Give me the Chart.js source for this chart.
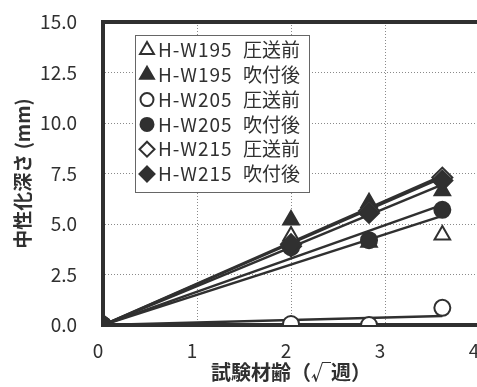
<!DOCTYPE html>
<html>
<head>
<meta charset="utf-8">
<script src="https://cdn.jsdelivr.net/npm/chart.js@4/dist/chart.umd.min.js"></script>
<style>
  html, body { margin: 0; padding: 0; background: #fff; }
  #wrap { width: 477px; height: 387px; overflow: hidden; position: relative; }
  canvas { display: block; }
</style>
</head>
<body>
<div id="wrap"><canvas id="chuseika" width="495" height="387"></canvas></div>
<script>
// 中性化深さ vs 試験材齢(√週)
var xValues = [0, 2, 2.83, 3.61];

var seriesLabels = ['H-W195 圧送前', 'H-W195 吹付後',
  'H-W205 圧送前', 'H-W205 吹付後',
  'H-W215 圧送前', 'H-W215 吹付後'];

var w195Before = [0, 4.4, 4.1, 4.45];
var w195After  = [0, 5.2, 6.05, 6.65];
var w205Before = [0, 0.05, 0, 0.85];
var w205After  = [0, 3.85, 4.2, 5.7];
var w215Before = [0, 4.0, 5.65, 7.3];
var w215After  = [0, 3.9, 5.55, 7.15];

// 近似直線 (原点から最終材齢まで), 図から読んだ終点の値
var trendX   = [0, 3.61];
var trendEnd = [5.4, 7.4, 0.45, 5.95, 7.3, 6.95];

var yTicks = [0, 2.5, 5, 7.5, 10, 12.5, 15];
var xTicks = [0, 1, 2, 3, 4];

var allSeries = [w195Before, w195After, w205Before, w205After, w215Before, w215After];
var shapes  = ['triangle', 'triangle', 'circle', 'circle', 'rectRot', 'rectRot'];
var filled  = [false, true, false, true, false, true];
var radius  = [9, 9, 8, 8, 10, 10];

var ink = '#303030';
var font = '"Noto Sans CJK JP", "Noto Sans", sans-serif';

function pts(ys) {
  return xValues.map(function (x, i) { return {x: x, y: ys[i]}; });
}

var datasets = [];
allSeries.forEach(function (ys, i) {
  datasets.push({
    type: 'scatter',
    label: seriesLabels[i],
    data: pts(ys),
    showLine: false,
    pointStyle: shapes[i],
    pointRadius: radius[i],
    pointBackgroundColor: filled[i] ? ink : '#ffffff',
    pointBorderColor: ink,
    pointBorderWidth: 2,
    order: 6 - i
  });
});
trendEnd.forEach(function (e, i) {
  datasets.push({
    type: 'line',
    label: 'trend' + i,
    data: [{x: trendX[0], y: 0}, {x: trendX[1], y: e}],
    borderColor: ink,
    borderWidth: 2.5,
    pointRadius: 0,
    fill: false,
    order: 20
  });
});

function drawMarker(ctx, shape, x, y, r, fill) {
  ctx.save();
  ctx.beginPath();
  if (shape === 'triangle') {
    for (var k = 0; k < 3; k++) {
      var a = k * 2 * Math.PI / 3;
      var px = x + Math.sin(a) * r, py = y - Math.cos(a) * r;
      if (k === 0) ctx.moveTo(px, py); else ctx.lineTo(px, py);
    }
    ctx.closePath();
  } else if (shape === 'circle') {
    ctx.arc(x, y, r, 0, Math.PI * 2);
  } else {
    ctx.moveTo(x, y - r); ctx.lineTo(x + r, y); ctx.lineTo(x, y + r); ctx.lineTo(x - r, y);
    ctx.closePath();
  }
  ctx.fillStyle = fill ? ink : '#fff';
  ctx.fill();
  ctx.lineWidth = 2;
  ctx.strokeStyle = ink;
  ctx.stroke();
  ctx.restore();
}

// 凡例 (グラフ内の枠付き)
var boxLegend = {
  id: 'boxLegend',
  afterDatasetsDraw: function (chart) {
    var ctx = chart.ctx;
    var bx = 135, by = 35, bw = 174, bh = 157;
    ctx.save();
    ctx.fillStyle = '#fff';
    ctx.fillRect(bx, by, bw, bh);
    ctx.lineWidth = 1;
    ctx.strokeStyle = '#666';
    ctx.strokeRect(bx + 0.5, by + 0.5, bw, bh);
    ctx.font = '19px ' + font;
    ctx.fillStyle = ink;
    ctx.textBaseline = 'middle';
    var lr = [8, 8, 6.5, 6.5, 7.5, 7.5];
    seriesLabels.forEach(function (lab, i) {
      var y = 50 + i * 24.8;
      drawMarker(ctx, shapes[i], 147, y, lr[i], filled[i]);
      var parts = lab.split(' ');
      ctx.letterSpacing = '1px';
      ctx.fillText(parts[0], 158, y);
      ctx.letterSpacing = '0px';
      ctx.fillText(parts[1], 243, y);
    });
    ctx.restore();
  }
};

var chart = new Chart(document.getElementById('chuseika'), {
  type: 'scatter',
  data: {datasets: datasets},
  plugins: [boxLegend],
  options: {
    responsive: false,
    animation: false,
    devicePixelRatio: 1,
    layout: {padding: {left: 8, top: 22, right: 16, bottom: 0}},
    plugins: {legend: {display: false}, tooltip: {enabled: false}},
    scales: {
      x: {
        type: 'linear', min: 0, max: 4,
        afterBuildTicks: function (s) { s.ticks = xTicks.map(function (v) { return {value: v}; }); },
        afterFit: function (s) { s.height = 62; s.paddingLeft = 0; s.paddingRight = 0; },
        grid: {
          drawTicks: false,
          color: function (c) { return c.tick && c.tick.value === 0 ? 'rgba(0,0,0,0)' : '#8a8a8a'; },
          lineWidth: 1
        },
        border: {display: true, color: ink, width: 4, dash: [1, 2]},
        ticks: {
          padding: 14, labelOffset: -5, color: ink,
          font: {family: font, size: 19},
          callback: function (v) { return String(v); }
        },
        title: {
          display: true, text: '試験材齢（√週）', color: ink,
          font: {family: font, size: 20, weight: 'bold'},
          padding: {top: 0, bottom: 3}
        }
      },
      y: {
        type: 'linear', min: 0, max: 15,
        afterBuildTicks: function (s) { s.ticks = yTicks.map(function (v) { return {value: v}; }); },
        afterFit: function (s) { s.width = 95; s.paddingTop = 0; s.paddingBottom = 0; },
        grid: {
          drawTicks: false,
          color: function (c) {
            if (!c.tick) return '#8a8a8a';
            if (c.tick.value === 15) return ink;
            if (c.tick.value === 0) return 'rgba(0,0,0,0)';
            return '#8a8a8a';
          },
          lineWidth: function (c) { return c.tick && c.tick.value === 15 ? 4 : 1; }
        },
        border: {
          display: true, color: ink, width: 4,
          dash: function (c) { return c.tick && c.tick.value === 15 ? [] : [1, 2]; }
        },
        ticks: {
          padding: 26, color: ink,
          font: {family: font, size: 19},
          callback: function (v) { return Number(v).toFixed(1); }
        },
        title: {
          display: true, text: '中性化深さ (mm)', color: ink,
          font: {family: font, size: 19, weight: 'bold'},
          padding: {top: 3, bottom: 0}
        }
      }
    }
  }
});
</script>
</body>
</html>
